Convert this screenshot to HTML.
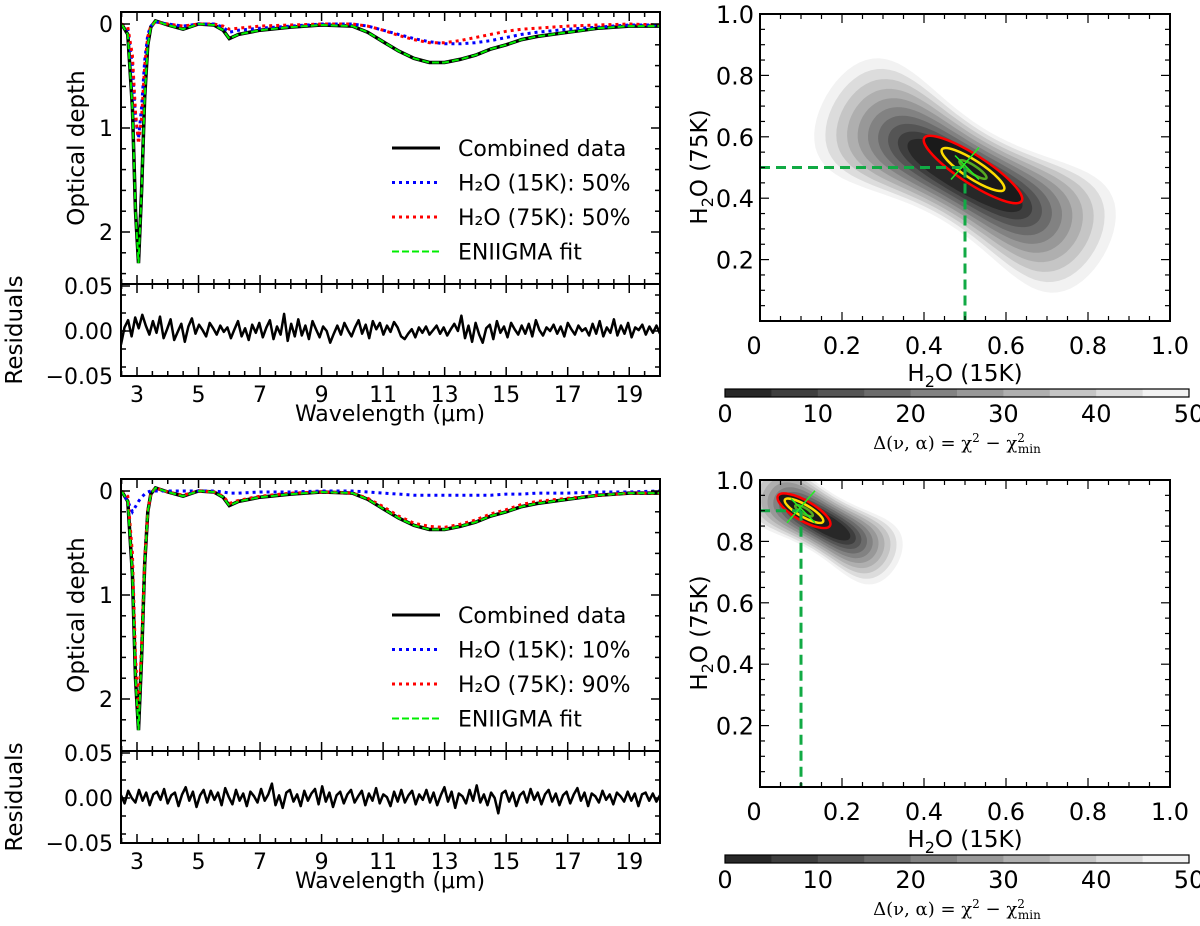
<!DOCTYPE html>
<html><head><meta charset="utf-8"><style>
html,body{margin:0;padding:0;background:#fff;}
svg{display:block;font-family:"DejaVu Sans","Liberation Sans",sans-serif;}
</style></head><body>
<svg id="fig" width="1200" height="926" viewBox="0 0 1200 926" xmlns="http://www.w3.org/2000/svg"></svg>
<script>
// ---------- data ----------
const lam = [2.5,2.7,2.85,2.95,3.05,3.15,3.25,3.35,3.45,3.6,4,4.5,5,5.5,5.8,6.0,6.3,7,8,9,10,10.5,11,11.5,12,12.5,13,13.5,14,14.5,15,15.5,16,17,18,19,20];
const tauData = [0,0.1,0.8,1.8,2.3,1.6,0.7,0.2,0.03,-0.03,0.01,0.05,0.0,0.01,0.06,0.14,0.1,0.06,0.03,0.01,0.02,0.08,0.17,0.26,0.33,0.37,0.37,0.34,0.30,0.24,0.2,0.15,0.12,0.08,0.04,0.02,0.02];
const tau15a = [0,0.05,0.4,0.9,1.1,0.8,0.35,0.1,0.02,-0.02,0.0,0.02,0.0,0.0,0.03,0.08,0.06,0.04,0.02,0.0,0.0,0.02,0.06,0.1,0.14,0.17,0.19,0.19,0.18,0.16,0.13,0.1,0.08,0.05,0.03,0.01,0.01];
const tau75a = [0,0.03,0.3,0.85,1.15,0.9,0.4,0.12,0.02,-0.02,0.0,0.02,0.0,0.0,0.02,0.05,0.04,0.02,0.01,0.0,0.0,0.02,0.06,0.11,0.15,0.18,0.18,0.16,0.13,0.1,0.07,0.05,0.04,0.02,0.01,0.0,0.01];
const tau15b = [0,0.1,0.2,0.15,0.1,0.06,0.03,0.01,0.0,0,0,0,0,0,0.01,0.02,0.02,0.01,0.01,0,0.0,0.01,0.02,0.03,0.04,0.04,0.04,0.04,0.04,0.04,0.03,0.03,0.02,0.02,0.01,0.01,0.0];
const tau75b = [0,0.05,0.6,1.6,2.1,1.5,0.65,0.19,0.03,-0.03,0.01,0.04,0.0,0.01,0.05,0.12,0.09,0.05,0.02,0.01,0.02,0.07,0.15,0.24,0.31,0.34,0.35,0.32,0.28,0.22,0.18,0.13,0.1,0.07,0.04,0.02,0.02];
const resA = [-0.015,0.004,0.012,-0.006,0.015,0.003,0.018,0.006,-0.004,0.011,-0.002,0.016,-0.008,0.002,0.013,-0.01,-0.001,0.008,-0.012,0.005,0.014,-0.003,0.007,0.001,-0.006,0.009,0.003,-0.004,0.006,-0.001,0.004,-0.008,0.002,0.011,-0.006,0.003,-0.01,0.007,-0.002,0.009,-0.007,0.004,0.012,-0.009,0.005,-0.004,0.019,-0.011,0.008,-0.006,0.013,-0.005,0.006,-0.009,0.011,0.002,-0.007,0.005,0.0,-0.013,-0.003,0.006,-0.004,0.009,0.001,-0.006,0.004,0.012,-0.003,0.007,-0.008,0.011,0.002,0.009,-0.004,0.006,-0.001,0.01,0.004,-0.006,-0.009,-0.003,0.002,-0.007,0.004,-0.002,0.005,-0.004,0.001,0.006,-0.003,0.004,-0.005,0.002,0.008,0.0,0.017,-0.008,0.006,-0.012,0.009,-0.004,-0.013,0.003,0.007,-0.009,0.011,-0.002,0.005,-0.007,0.009,0.002,-0.004,0.006,-0.003,0.008,-0.006,0.012,0.001,-0.005,0.004,0.0,0.007,-0.003,0.005,-0.006,0.009,0.002,-0.004,0.006,0.0,0.003,-0.005,0.008,-0.003,0.011,-0.006,0.004,-0.002,0.013,-0.005,0.006,-0.003,0.009,-0.007,0.004,0.001,0.007,-0.004,0.005,-0.002,0.006,-0.003];
const resB = [0.003,-0.006,0.008,0.0,-0.005,0.009,-0.003,0.006,-0.008,0.004,0.007,-0.002,0.01,-0.006,0.003,0.006,-0.009,0.004,0.012,-0.003,0.007,-0.01,0.003,0.009,-0.005,0.008,-0.002,0.006,-0.008,0.011,0.001,-0.007,0.009,-0.003,0.005,-0.009,0.007,0.002,-0.005,0.01,-0.003,0.004,0.016,-0.008,0.003,-0.011,0.006,0.009,-0.004,0.004,-0.009,0.008,-0.003,0.005,0.01,-0.007,0.013,-0.004,0.006,-0.01,0.003,0.007,-0.006,0.004,0.009,-0.005,0.002,0.008,-0.008,0.005,-0.003,0.011,-0.006,0.004,0.001,-0.009,0.007,-0.004,0.009,-0.005,0.003,0.008,-0.007,0.004,-0.002,0.009,-0.005,0.006,-0.008,0.003,0.012,-0.004,0.007,-0.011,0.005,0.002,-0.006,0.009,-0.003,0.014,-0.005,0.004,-0.008,0.006,0.0,-0.017,0.005,0.008,-0.004,0.006,-0.009,0.003,0.007,-0.005,0.01,-0.002,0.006,-0.007,0.004,0.009,-0.004,0.005,-0.008,0.003,0.007,-0.006,0.004,0.011,-0.003,0.006,-0.009,0.005,0.002,-0.005,0.008,-0.002,0.004,-0.007,0.006,0.002,-0.004,0.007,-0.003,0.005,-0.009,0.004,0.006,-0.003,0.005,-0.004,0.003];
const xTicks = [3,5,7,9,11,13,15,17,19];
const yTicks = [0,1,2];
const rTicks = [0.05,0.00,-0.05];
const rTickLabels = ["0.05","0.00","\u22120.05"];
const cTicks = [0.2,0.4,0.6,0.8,1.0];
const cTickLabels = ["0.2","0.4","0.6","0.8","1.0"];
const levels = [50,45,40,35,30,25,20,15,10,5];
const cbarTicks = [0,10,20,30,40,50];
const bestA = [0.5,0.5];
const bestB = [0.1,0.9];
const legendA = ["Combined data","H\u2082O (15K): 50%","H\u2082O (75K): 50%","ENIIGMA fit"];
const legendB = ["Combined data","H\u2082O (15K): 10%","H\u2082O (75K): 90%","ENIIGMA fit"];

// ---------- helpers ----------
const svg = document.getElementById('fig');
const NS = 'http://www.w3.org/2000/svg';
const FS = 22;
function mk(tag, attrs, parent){const e=document.createElementNS(NS,tag);for(const k in attrs)e.setAttribute(k,attrs[k]);(parent||svg).appendChild(e);return e;}
function txt(s,x,y,size,anchor,parent,extra){const e=mk('text',Object.assign({x:x,y:y,'font-size':size,'text-anchor':anchor||'middle',fill:'#000'},extra||{}),parent);e.textContent=s;return e;}

function spectrumPanel(off, s15, s75, res, legend, tag){
  const L=121,R=660,T=12+off,M=284+off,B=376+off;
  const X=v=>L+(v-2.48)/(20-2.48)*(R-L);
  const Y=v=>24+off+v*104;
  const YR=v=>331+off-v*900;
  const g=mk('g',{});
  
  
  const clip=mk('clipPath',{id:'c'+tag},g);mk('rect',{x:L,y:T,width:R-L,height:M-T},clip);
  const clip2=mk('clipPath',{id:'r'+tag},g);mk('rect',{x:L,y:M,width:R-L,height:B-M},clip2);
  const path=(arr,Yf)=>lam.map((l,i)=>(i?'L':'M')+X(l).toFixed(1)+','+Yf(arr[i]).toFixed(1)).join('');
  const d=mk('path',{d:path(tauData,Y),fill:'none',stroke:'#000','stroke-width':3.5,'clip-path':'url(#c'+tag+')'},g);
  
  const b=mk('path',{d:path(s15,Y),fill:'none',stroke:'#0000ff','stroke-width':3,'stroke-dasharray':'3 4','clip-path':'url(#c'+tag+')'},g);
  
  const r=mk('path',{d:path(s75,Y),fill:'none',stroke:'#ff0000','stroke-width':3,'stroke-dasharray':'3 4','clip-path':'url(#c'+tag+')'},g);
  
  const f=mk('path',{d:path(tauData,Y),fill:'none',stroke:'#00ee00','stroke-width':2,'stroke-dasharray':'7 3','clip-path':'url(#c'+tag+')'},g);
  
  const rd=res.map((v,i)=>(i?'L':'M')+(L+i*(R-L)/(res.length-1)).toFixed(1)+','+YR(v).toFixed(1)).join('');
  const rp=mk('path',{d:rd,fill:'none',stroke:'#000','stroke-width':2.5,'stroke-linejoin':'round','clip-path':'url(#r'+tag+')'},g);
  
  mk('rect',{x:L,y:T,width:R-L,height:B-T,fill:'none',stroke:'#000','stroke-width':2},g);
  mk('line',{x1:L,x2:R,y1:M,y2:M,stroke:'#000','stroke-width':2},g);
  for(let v=2.5;v<=20.01;v+=0.5){const x=X(v);const maj=xTicks.includes(v);const len=maj?9:5;
    [T,M].forEach(y=>mk('line',{x1:x,x2:x,y1:y,y2:y+len,stroke:'#000','stroke-width':1.5},g));
    [M,B].forEach(y=>mk('line',{x1:x,x2:x,y1:y,y2:y-len,stroke:'#000','stroke-width':1.5},g));}
  xTicks.forEach(v=>{const t=txt(String(v),X(v),B+26,FS,'middle',g);});
  for(let v=0;v<=2.41;v+=0.2){const y=Y(v);const maj=Math.abs(v-Math.round(v))<1e-6;const len=maj?9:5;
    mk('line',{x1:L,x2:L+len,y1:y,y2:y,stroke:'#000','stroke-width':1.5},g);mk('line',{x1:R,x2:R-len,y1:y,y2:y,stroke:'#000','stroke-width':1.5},g);}
  yTicks.forEach(v=>{const t=txt(String(v),L-8,Y(v)+8,FS,'end',g);});
  for(let v=-0.04;v<=0.041;v+=0.02){const y=YR(v);mk('line',{x1:L,x2:L+5,y1:y,y2:y,stroke:'#000','stroke-width':1.5},g);mk('line',{x1:R,x2:R-5,y1:y,y2:y,stroke:'#000','stroke-width':1.5},g);}
  rTicks.forEach((v,i)=>{const y=YR(v);mk('line',{x1:L,x2:L+9,y1:y,y2:y,stroke:'#000','stroke-width':1.5},g);
    const t=txt(rTickLabels[i],L-8,y+8,FS,'end',g);});
  const yl=txt('Optical depth',0,0,23,'middle',g,{transform:'translate(84,'+(148+off)+') rotate(-90)'});
  
  const rl=txt('Residuals',0,0,23,'middle',g,{transform:'translate(22,'+(330+off)+') rotate(-90)'});
  
  const xl=txt('Wavelength (\u03bcm)',390,B+45,22,'middle',g);
  
  const lg=mk('g',{},g);
  
  const styles=[{stroke:'#000','stroke-width':3},{stroke:'#0000ff','stroke-width':3,'stroke-dasharray':'3 4'},{stroke:'#ff0000','stroke-width':3,'stroke-dasharray':'3 4'},{stroke:'#00ee00','stroke-width':2,'stroke-dasharray':'7 3'}];
  legend.forEach((s,i)=>{const y=148+off+i*34.5;
    mk('line',Object.assign({x1:392,x2:440,y1:y,y2:y},styles[i]),lg);
    const t=txt(s,458,y+8,22,'start',lg);});
}

function peanut(cx,cy,a,b,k,angDeg){
  const an=angDeg*Math.PI/180, c=Math.cos(an), s=Math.sin(an);
  let d='';
  for(let i=0;i<=96;i++){const t=i/96*2*Math.PI;
    const px=a*Math.cos(t), py=b*Math.sin(t)*(1+k*Math.cos(t)*Math.cos(t));
    const x=cx+px*c-py*s, y=cy+px*s+py*c;
    d+=(i?'L':'M')+x.toFixed(1)+','+y.toFixed(1);}
  return d+'Z';
}

function contourPanel(off, best, sz, tag){
  const L=760,R=1170,T=14+off,B=321+off;
  const X=v=>L+v*(R-L);
  const Y=v=>B-v*(B-T);
  const g=mk('g',{});
  
  const clip=mk('clipPath',{id:'k'+tag},g);mk('rect',{x:L,y:T,width:R-L,height:B-T},clip);
  const cg=mk('g',{'clip-path':'url(#k'+tag+')'},g);
  const bx=X(best[0]),by=Y(best[1]);
  const cx=bx+sz.dx, cy=by+sz.dy;
  levels.forEach(lv=>{const f=lv/50;const gv=Math.round(17+f*225);
    const a=sz.a0+sz.a1*f, b=sz.b0+sz.b1*f, k=sz.k*f;
    const p=mk('path',{d:peanut(cx,cy,a,b,k,sz.ang),fill:'rgb('+gv+','+gv+','+gv+')'},cg);
    
  });
  const ell=(r,col,name)=>{const e=mk('ellipse',{cx:bx+sz.ex,cy:by+sz.ey,rx:r[0],ry:r[1],fill:'none',stroke:col,'stroke-width':2.5,transform:'rotate('+sz.ia+' '+(bx+sz.ex)+' '+(by+sz.ey)+')'},cg);
    };
  mk('ellipse',{cx:bx+sz.ex,cy:by+sz.ey,rx:sz.red[0],ry:sz.red[1],fill:'#1a1a1a',transform:'rotate('+sz.ia+' '+(bx+sz.ex)+' '+(by+sz.ey)+')'},cg);
  ell(sz.red,'#ff0000','contour-3sigma');
  ell(sz.yel,'#ffdd00','contour-2sigma');
  ell(sz.grn,'#55aa22','contour-1sigma');
  const h=mk('line',{x1:L,x2:bx,y1:by,y2:by,stroke:'#11aa44','stroke-width':3,'stroke-dasharray':'10 6'},g);
  
  const v=mk('line',{x1:bx,x2:bx,y1:by,y2:B,stroke:'#11aa44','stroke-width':3,'stroke-dasharray':'10 6'},g);
  
  const c1=mk('line',{x1:bx-14,y1:by+12,x2:bx+14,y2:by-20,stroke:'#22ee22','stroke-width':1.5},g);
  
  mk('line',{x1:bx-10,y1:by-12,x2:bx+14,y2:by+12,stroke:'#22ee22','stroke-width':1.5},g);
  mk('rect',{x:L,y:T,width:R-L,height:B-T,fill:'none',stroke:'#000','stroke-width':2},g);
  for(let k=1;k<20;k++){const f=k/20;const len=(k%4===0)?9:5;
    const x=X(f),y=Y(f);
    mk('line',{x1:x,x2:x,y1:B,y2:B-len,stroke:'#000','stroke-width':1.2},g);mk('line',{x1:x,x2:x,y1:T,y2:T+len,stroke:'#000','stroke-width':1.2},g);
    mk('line',{x1:L,x2:L+len,y1:y,y2:y,stroke:'#000','stroke-width':1.2},g);mk('line',{x1:R,x2:R-len,y1:y,y2:y,stroke:'#000','stroke-width':1.2},g);}
  const z=txt('0',L-6,B+33,24,'middle',g);
  cTicks.forEach((v,i)=>{const t=txt(cTickLabels[i],X(v),B+33,24,'middle',g);
    const t2=txt(cTickLabels[i],L-6,Y(v)+9,24,'end',g);});
  const xl=mk('text',{x:965,y:B+60,'font-size':23,'text-anchor':'middle'},g);
  xl.innerHTML='H<tspan font-size="16" dy="6">2</tspan><tspan dy="-6">O (15K)</tspan>';
  
  const yl=mk('text',{x:0,y:0,'font-size':23,'text-anchor':'middle',transform:'translate(707,'+(167+off)+') rotate(-90)'},g);
  yl.innerHTML='H<tspan font-size="16" dy="6">2</tspan><tspan dy="-6">O (75K)</tspan>';
  
  const cb=mk('g',{},g);
  
  const cL=725,cR=1189,cT=389+off,cH=8;
  const CX=v=>cL+v/50*(cR-cL);
  for(let k=0;k<10;k++){const gv=Math.round(17+((k+1)*5/50)*225);
    mk('rect',{x:CX(k*5),y:cT,width:CX(5)-CX(0)+0.5,height:cH,fill:'rgb('+gv+','+gv+','+gv+')'},cb);}
  mk('rect',{x:cL,y:cT,width:cR-cL,height:cH,fill:'none',stroke:'#000','stroke-width':1.2},cb);
  cbarTicks.forEach(v=>{const t=txt(String(v),CX(v),cT+33,24,'middle',cb);});
  const ct=mk('text',{x:957,y:cT+60,'font-size':18,'text-anchor':'middle','font-family':'"DejaVu Serif","Liberation Serif",serif'},cb);
  ct.innerHTML='\u0394(\u03bd, \u03b1) = \u03c7<tspan font-size="12" dy="-7">2</tspan><tspan dy="7"> \u2212 \u03c7</tspan><tspan font-size="12" dy="-7">2</tspan><tspan font-size="12" dx="-7" dy="11">min</tspan>';
  
}

spectrumPanel(0, tau15a, tau75a, resA, legendA, 'top');
spectrumPanel(467, tau15b, tau75b, resB, legendB, 'bottom');
contourPanel(0, bestA, {dx:0,dy:8,ang:30,a0:55,a1:105,b0:13,b1:37,k:1.6,ex:8,ey:2,ia:33,red:[58,14],yel:[37,9],grn:[16,4]}, 'top');
contourPanel(466, bestB, {dx:22,dy:12,ang:30,a0:25,a1:60,b0:7,b1:23,k:1.2,ex:3,ey:0,ia:30,red:[30,10],yel:[22,6],grn:[10,3]}, 'bottom');
</script>
</body></html>
